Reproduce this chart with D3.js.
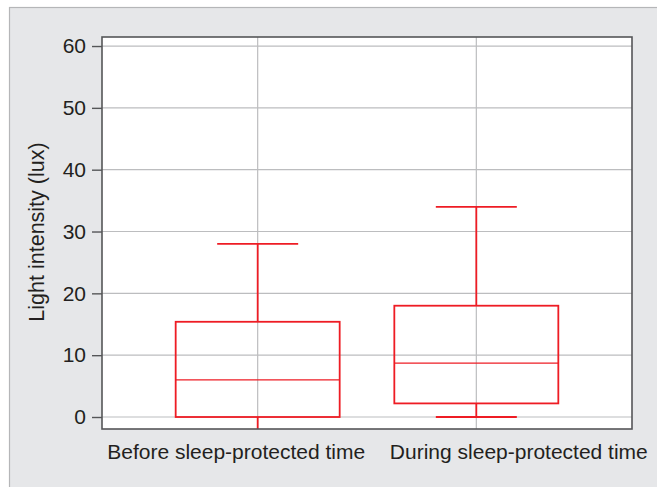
<!DOCTYPE html>
<html><head><meta charset="utf-8">
<script src="https://cdn.jsdelivr.net/npm/d3@7"></script>
<style>body{margin:0;background:#fff}svg{display:block}text{font-family:"Liberation Sans",Arial,sans-serif;fill:#231f20}</style>
</head><body>
<svg id="c" width="657" height="487"></svg>
<script>
const categories = ["Before sleep-protected time", "During sleep-protected time"];
const whiskerLow  = [-3, 0];
const q1          = [0, 2.2];
const median      = [6, 8.7];
const q3          = [15.4, 18];
const whiskerHigh = [28, 34];
const yTicks = [0, 10, 20, 30, 40, 50, 60];
const yTitle = "Light intensity (lux)";

const svg = d3.select("#c");
// outer panel
svg.append("rect").attr("x", 9.5).attr("y", 7.5).attr("width", 660).attr("height", 490)
  .attr("fill", "#e6e7e9").attr("stroke", "#b5b6b8").attr("stroke-width", 1.2);

const L = 102, R = 632, T = 37, B = 429;
const y = d3.scaleLinear().domain([-1.94, 61.46]).range([B, T]);
const x = d3.scalePoint().domain(categories).range([L, R]).padding(0.712);

svg.append("rect").attr("x", L).attr("y", T).attr("width", R - L).attr("height", B - T).attr("fill", "#fff");

// grid
const g = svg.append("g");
g.selectAll("line.h").data(yTicks).join("line")
  .attr("x1", L).attr("x2", R).attr("y1", d => y(d)).attr("y2", d => y(d))
  .attr("stroke", "#bcbdbf").attr("stroke-width", 1.2);
g.selectAll("line.v").data(categories).join("line")
  .attr("x1", d => x(d)).attr("x2", d => x(d)).attr("y1", T).attr("y2", B)
  .attr("stroke", "#bcbdbf").attr("stroke-width", 1.2);

// boxes
svg.append("clipPath").attr("id", "clip").append("rect").attr("x", L).attr("y", T).attr("width", R - L).attr("height", B - T);
const red = "#ee1c24";
const bw = 164, cw = 81;
const bx = svg.append("g").attr("clip-path", "url(#clip)");
categories.forEach((c, i) => {
  const cx = x(c);
  const gg = bx.append("g").attr("stroke", red).attr("fill", "none").attr("stroke-width", 1.8);
  gg.append("line").attr("x1", cx).attr("x2", cx).attr("y1", y(q3[i])).attr("y2", y(whiskerHigh[i]));
  gg.append("line").attr("x1", cx).attr("x2", cx).attr("y1", y(q1[i])).attr("y2", y(whiskerLow[i]));
  gg.append("line").attr("x1", cx - cw/2).attr("x2", cx + cw/2).attr("y1", y(whiskerHigh[i])).attr("y2", y(whiskerHigh[i]));
  gg.append("line").attr("x1", cx - cw/2).attr("x2", cx + cw/2).attr("y1", y(whiskerLow[i])).attr("y2", y(whiskerLow[i]));
  gg.append("rect").attr("x", cx - bw/2).attr("width", bw).attr("y", y(q3[i])).attr("height", y(q1[i]) - y(q3[i]));
  gg.append("line").attr("x1", cx - bw/2).attr("x2", cx + bw/2).attr("y1", y(median[i])).attr("y2", y(median[i])).attr("stroke-width", 1.3);
});

// frame
svg.append("rect").attr("x", L).attr("y", T).attr("width", R - L).attr("height", B - T)
  .attr("fill", "none").attr("stroke", "#555658").attr("stroke-width", 1.6);

// y axis
const ya = svg.append("g").attr("transform", `translate(${L},0)`)
  .call(d3.axisLeft(y).tickValues(yTicks).tickSize(10).tickPadding(6));
ya.select(".domain").remove();
ya.selectAll(".tick line").attr("stroke", "#555658").attr("stroke-width", 1.4);
ya.selectAll(".tick text").attr("font-size", 21).style("fill", "#231f20").attr("font-family", null);

// x labels
const xa = svg.append("g").attr("transform", `translate(0,${B})`)
  .call(d3.axisBottom(x).tickSize(0).tickPadding(15));
xa.select(".domain").remove();
const labelShift = [-22, 42];
xa.selectAll(".tick text").attr("font-size", 21).style("fill", "#231f20").attr("font-family", null)
  .attr("dx", (d, i) => labelShift[i]);

svg.append("text").attr("transform", `translate(44,232) rotate(-90)`)
  .attr("text-anchor", "middle").attr("font-size", 21.5).text(yTitle);
</script>
</body></html>
